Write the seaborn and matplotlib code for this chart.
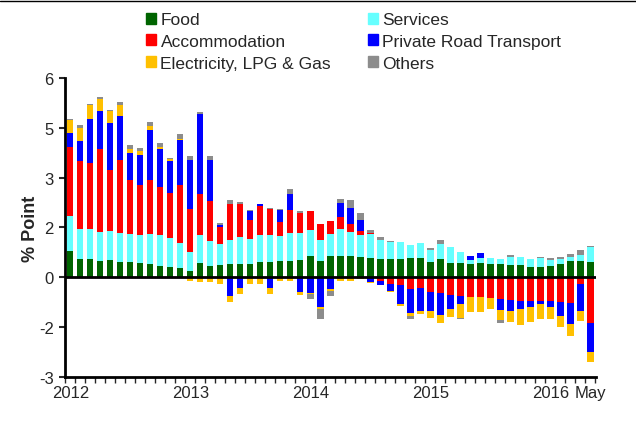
import numpy as np
import pandas as pd
import seaborn as sns
import matplotlib
matplotlib.use("Agg")
import matplotlib.pyplot as plt
from matplotlib.patches import Patch
from matplotlib.lines import Line2D

# monthly contributions (% point), Jan 2012 .. May 2016
months = pd.date_range("2012-01-01", "2016-05-01", freq="MS").strftime("%Y-%m").tolist()

food = [0.80, 0.55, 0.56, 0.50, 0.51, 0.47, 0.47, 0.44, 0.41, 0.34, 0.32, 0.29,
        0.20, 0.44, 0.35, 0.36, 0.40, 0.40, 0.41, 0.47, 0.46, 0.50, 0.50, 0.52,
        0.63, 0.50, 0.64, 0.64, 0.64, 0.62, 0.59, 0.55, 0.56, 0.55, 0.57, 0.57,
        0.47, 0.55, 0.44, 0.44, 0.39, 0.42, 0.40, 0.40, 0.38, 0.38, 0.32, 0.31,
        0.35, 0.40, 0.48, 0.48, 0.45]
services = [1.05, 0.90, 0.90, 0.85, 0.87, 0.86, 0.84, 0.83, 0.90, 0.94, 0.87, 0.74,
            0.57, 0.83, 0.73, 0.64, 0.73, 0.80, 0.75, 0.81, 0.80, 0.75, 0.83, 0.80,
            0.79, 0.62, 0.66, 0.80, 0.73, 0.65, 0.72, 0.57, 0.51, 0.50, 0.40, 0.46,
            0.36, 0.45, 0.46, 0.33, 0.14, 0.15, 0.17, 0.15, 0.22, 0.23, 0.23, 0.26,
            0.16, 0.15, 0.13, 0.20, 0.45]
accommodation = [2.06, 2.06, 1.99, 2.51, 1.85, 2.20, 1.62, 1.52, 1.62, 1.43, 1.36, 1.75,
                 1.29, 1.25, 1.23, 0.51, 1.08, 1.01, 0.55, 0.88, 0.81, 0.41, 0.70, 0.62,
                 0.58, 0.47, 0.40, 0.38, 0.22, 0.12, 0.03, -0.10, -0.21, -0.23, -0.35, -0.33,
                 -0.45, -0.47, -0.52, -0.57, -0.58, -0.60, -0.63, -0.65, -0.67, -0.70, -0.70, -0.72,
                 -0.72, -0.73, -0.77, -0.20, -1.39]
road_transport = [0.44, 0.59, 1.32, 1.15, 1.42, 1.33, 0.82, 0.89, 1.50, 1.16, 0.96, 1.35,
                  1.47, 2.39, 1.22, 0.07, -0.55, -0.32, 0.29, 0.04, -0.32, 0.38, 0.48, -0.45,
                  -0.48, -0.91, -0.35, 0.42, 0.50, 0.33, -0.13, -0.13, -0.20, -0.58, -0.74, -0.68,
                  -0.57, -0.66, -0.45, -0.23, 0.12, 0.16, 0.00, -0.35, -0.36, -0.25, -0.19, -0.10,
                  -0.19, -0.44, -0.65, -0.83, -0.86]
electricity = [0.38, 0.40, 0.41, 0.36, 0.35, 0.34, 0.11, 0.12, 0.13, 0.06, 0.04, 0.04,
               -0.12, -0.15, -0.15, -0.21, -0.20, -0.19, -0.20, -0.19, -0.18, -0.12, -0.12, -0.08,
               -0.03, -0.05, -0.05, -0.10, -0.10, -0.06, -0.03, 0.00, -0.04, -0.07, -0.08, -0.10,
               -0.21, -0.24, -0.23, -0.43, -0.47, -0.45, -0.34, -0.30, -0.32, -0.48, -0.46, -0.45,
               -0.36, -0.33, -0.35, -0.29, -0.29]
others = [0.05, 0.08, 0.05, 0.06, 0.03, 0.07, 0.12, 0.08, 0.12, 0.12, 0.05, 0.14,
          0.12, 0.07, 0.12, 0.06, 0.12, 0.07, 0.04, 0.02, 0.03, 0.03, 0.14, 0.05,
          -0.14, -0.30, -0.17, 0.11, 0.23, 0.20, 0.08, 0.10, 0.03, 0.00, -0.08, 0.00,
          0.04, 0.12, 0.02, -0.04, 0.00, 0.00, 0.00, -0.07, 0.08, 0.00, 0.00, 0.03,
          0.07, 0.06, 0.08, 0.13, 0.03]

series = [
    ("Food", food, "#006400"),
    ("Services", services, "#66FFFF"),
    ("Accommodation", accommodation, "#FF0000"),
    ("Private Road Transport", road_transport, "#0000FF"),
    ("Electricity, LPG & Gas", electricity, "#FFC000"),
    ("Others", others, "#8C8C8C"),
]

sns.set_style("ticks")
plt.rcParams["font.family"] = ["Liberation Sans", "DejaVu Sans"]

fig = plt.figure(figsize=(6.36, 4.27), dpi=100)
ax = fig.add_axes([0.102, 0.115, 0.835, 0.70])

# stack positives upward and negatives downward separately
pos_base = np.zeros(len(months))
neg_base = np.zeros(len(months))
for name, vals, col in series:
    v = np.array(vals)
    bottom = np.where(v >= 0, pos_base, neg_base)
    sns.barplot(x=months, y=v, bottom=bottom, color=col, width=0.62,
                errorbar=None, saturation=1, linewidth=0, ax=ax)
    pos_base += np.clip(v, 0, None)
    neg_base += np.clip(v, None, 0)

ax.axhline(0, color="black", lw=2, zorder=5)

ax.set_ylim(-3, 6)
ax.set_xlim(-0.55, 52.55)
ax.set_yticks(np.arange(-3, 6.01, 1.5))
ax.set_yticklabels(["-3", "-2", "0", "2", "3", "5", "6"], fontsize=12)
ax.tick_params(axis="y", length=4, width=1.5, direction="out", pad=4)

# month tick marks at bar edges, year labels without tick marks
ax.set_xticks(np.arange(-0.5, 53, 1))
ax.set_xticklabels([])
ax.tick_params(axis="x", which="major", length=4, width=1, direction="out")
ax.set_xticks([0, 12, 24, 36, 48, 52], minor=True)
ax.set_xticklabels(["2012", "2013", "2014", "2015", "2016", "May"], minor=True, fontsize=12)
ax.tick_params(axis="x", which="minor", length=0, pad=6)

ax.set_xlabel("")
ax.set_ylabel("% Point", fontsize=13, fontweight="bold", labelpad=0)

sns.despine(ax=ax)
for s in ["left", "bottom"]:
    ax.spines[s].set_linewidth(2)
    ax.spines[s].set_color("black")

handles = [Patch(color=c, label=n) for n, _, c in series]
order = [0, 2, 4, 1, 3, 5]
fig.legend([handles[i] for i in order], [handles[i].get_label() for i in order],
           ncol=2, loc="upper left", bbox_to_anchor=(0.21, 0.997), frameon=False,
           fontsize=12.5, handlelength=0.6, handleheight=0.6, handletextpad=0.25,
           columnspacing=2.1, labelspacing=0.38, borderpad=0.2)

fig.add_artist(Line2D([0, 1], [0.996, 0.996], transform=fig.transFigure, color="black", lw=1))

fig.savefig("out.png", dpi=100)
